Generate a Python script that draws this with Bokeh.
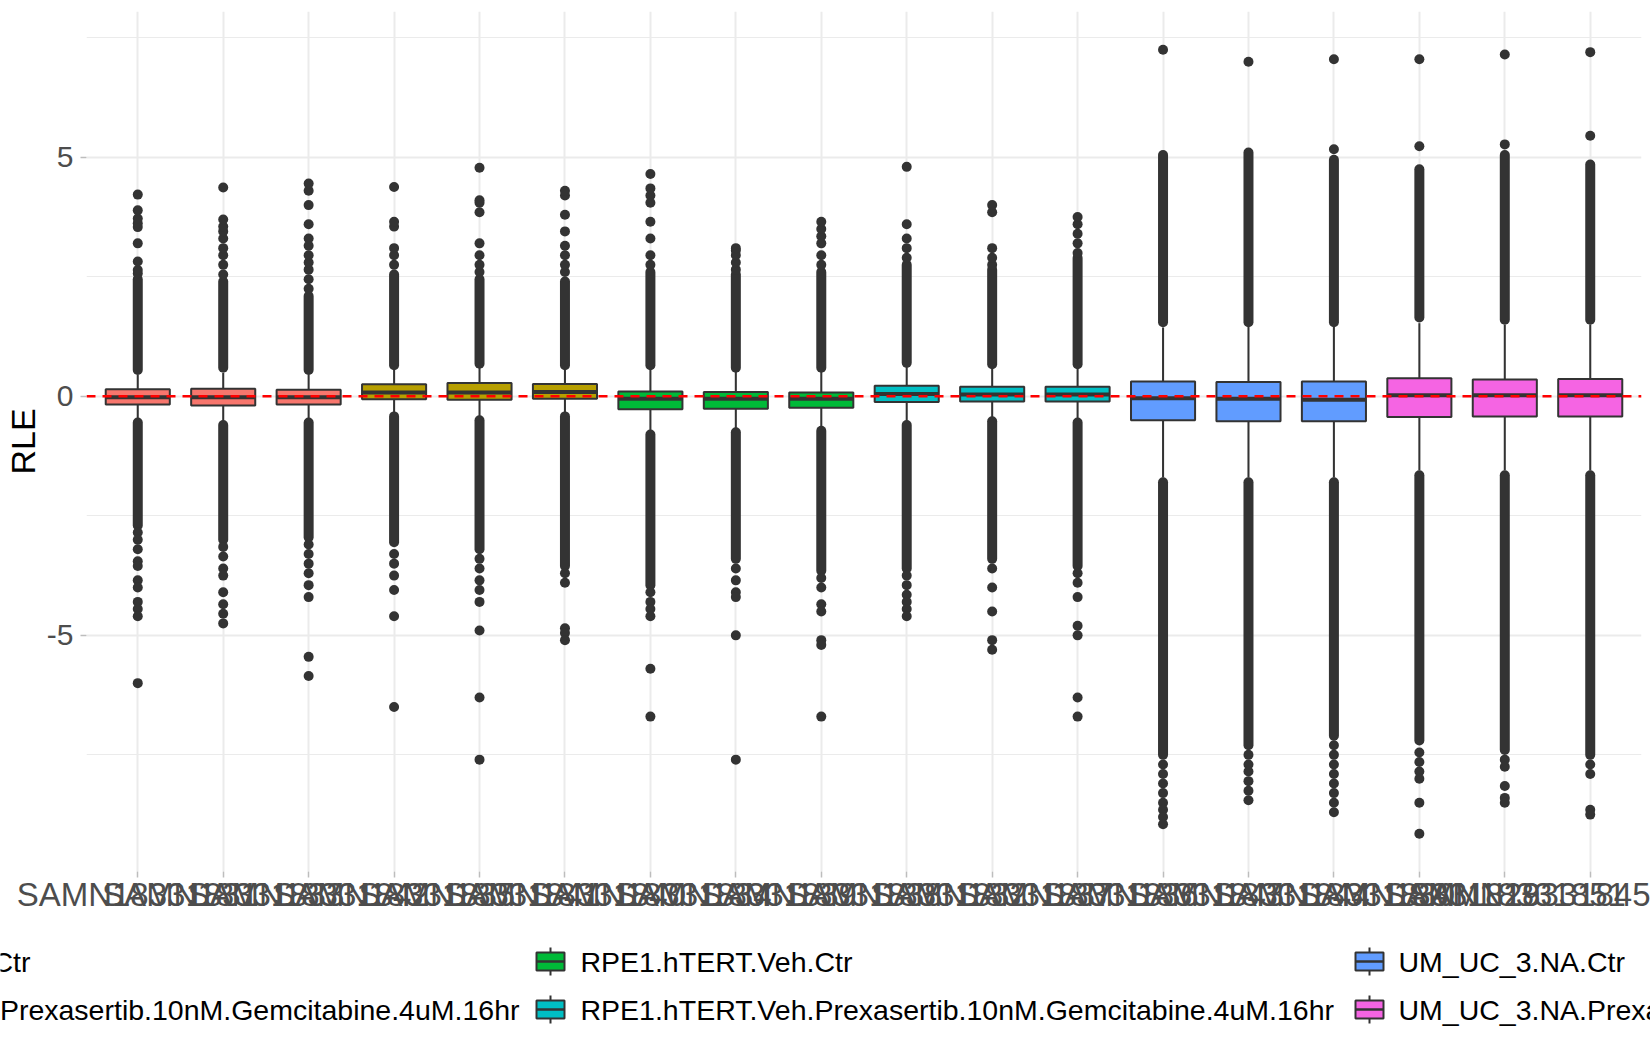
from bokeh.plotting import figure
from bokeh.models import FactorRange, Range1d, FixedTicker, Span
from bokeh.layouts import column
from bokeh.embed import file_html
from bokeh.resources import INLINE
from bokeh.core.properties import value

FONT = "Liberation Sans"

# sample ids along the x axis
samples = ["SAMN18331831", "SAMN18331833", "SAMN18331842", "SAMN18331835",
           "SAMN18331841", "SAMN18331840", "SAMN18331834", "SAMN18331839",
           "SAMN18331838", "SAMN18331832", "SAMN18331837", "SAMN18331836",
           "SAMN18331843", "SAMN18331844", "SAMN18331830", "SAMN18331829",
           "SAMN18331851", "SAMN18331845"]

group_names = ["RPE1.hTERT.Dox.Ctr",
               "RPE1.hTERT.Dox.Prexasertib.10nM.Gemcitabine.4uM.16hr",
               "RPE1.hTERT.Veh.Ctr",
               "RPE1.hTERT.Veh.Prexasertib.10nM.Gemcitabine.4uM.16hr",
               "UM_UC_3.NA.Ctr",
               "UM_UC_3.NA.Prexasertib.10nM.Gemcitabine.4uM.16hr"]
group_colors = ["#F8766D", "#B79F00", "#00BA38", "#00BFC4", "#619CFF", "#F564E3"]
sample_group = [0, 0, 0, 1, 1, 1, 2, 2, 2, 3, 3, 3, 4, 4, 4, 5, 5, 5]

# box statistics (RLE)
q1 = [-0.17, -0.19, -0.17, -0.06, -0.07, -0.05, -0.27, -0.26, -0.24,
      -0.12, -0.11, -0.11, -0.50, -0.52, -0.52, -0.43, -0.42, -0.42]
med = [-0.02, -0.02, -0.02, 0.08, 0.08, 0.09, -0.05, -0.05, -0.05,
       0.05, 0.04, 0.04, -0.04, -0.05, -0.07, 0.02, 0.02, 0.02]
q3 = [0.15, 0.16, 0.14, 0.25, 0.28, 0.26, 0.10, 0.09, 0.08,
      0.22, 0.20, 0.20, 0.31, 0.30, 0.31, 0.38, 0.35, 0.36]
whisk_lo = [-0.47, -0.52, -0.48, -0.38, -0.45, -0.38, -0.78, -0.72, -0.70,
            -0.55, -0.50, -0.52, -1.70, -1.70, -1.70, -1.55, -1.55, -1.55]
whisk_hi = [0.45, 0.49, 0.46, 0.58, 0.62, 0.58, 0.60, 0.55, 0.55,
            0.65, 0.62, 0.62, 1.44, 1.45, 1.45, 1.53, 1.50, 1.50]

# ranges where the outliers are packed into a solid column
dense_up_lo = [0.55, 0.60, 0.55, 0.65, 0.68, 0.65, 0.65, 0.60, 0.60,
               0.70, 0.67, 0.67, 1.55, 1.55, 1.55, 1.65, 1.60, 1.60]
dense_up_hi = [2.45, 2.40, 2.10, 2.55, 2.45, 2.40, 2.60, 2.55, 2.60,
               2.75, 2.65, 2.90, 5.05, 5.10, 4.95, 4.75, 5.05, 4.85]
dense_dn_hi = [-0.55, -0.60, -0.55, -0.42, -0.50, -0.42, -0.80, -0.75, -0.72,
               -0.60, -0.52, -0.55, -1.80, -1.80, -1.80, -1.65, -1.65, -1.65]
dense_dn_lo = [-2.70, -3.00, -2.95, -3.05, -3.20, -3.55, -3.95, -3.40, -3.65,
               -3.60, -3.40, -3.55, -7.50, -7.30, -7.10, -7.20, -7.40, -7.50]

# isolated outliers
sparse_up = [
    [2.57, 2.64, 2.82, 3.20, 3.54, 3.62, 3.72, 3.89, 4.22],
    [2.55, 2.75, 2.95, 3.10, 3.30, 3.45, 3.55, 3.70, 4.37],
    [2.25, 2.45, 2.65, 2.80, 2.95, 3.15, 3.30, 3.60, 4.00, 4.30, 4.45],
    [2.75, 2.95, 3.10, 3.55, 3.65, 4.38],
    [2.60, 2.75, 2.95, 3.20, 3.85, 4.05, 4.10, 4.78],
    [2.60, 2.75, 2.95, 3.15, 3.45, 3.80, 4.20, 4.30],
    [2.75, 2.95, 3.30, 3.65, 4.05, 4.20, 4.35, 4.65],
    [2.65, 2.80, 2.95, 3.05, 3.10],
    [2.75, 2.95, 3.20, 3.35, 3.50, 3.65],
    [2.90, 3.10, 3.30, 3.60, 4.80],
    [2.75, 2.90, 3.10, 3.85, 4.00],
    [3.00, 3.20, 3.40, 3.60, 3.75],
    [7.25],
    [7.00],
    [5.17, 7.05],
    [5.23, 7.05],
    [5.27, 7.15],
    [5.45, 7.20],
]
sparse_dn = [
    [-2.85, -3.00, -3.20, -3.45, -3.55, -3.85, -4.00, -4.30, -4.45, -4.60, -6.00],
    [-3.15, -3.35, -3.60, -3.75, -4.10, -4.35, -4.55, -4.75],
    [-3.10, -3.30, -3.50, -3.70, -3.95, -4.20, -5.45, -5.85],
    [-3.30, -3.50, -3.75, -4.05, -4.60, -6.50],
    [-3.40, -3.60, -3.85, -4.05, -4.30, -4.90, -6.30, -7.60],
    [-3.70, -3.90, -4.85, -4.95, -5.10],
    [-4.10, -4.30, -4.45, -4.60, -5.70, -6.70],
    [-3.60, -3.85, -4.10, -4.20, -5.00, -7.60],
    [-3.80, -4.00, -4.35, -4.50, -5.10, -5.20, -6.70],
    [-3.75, -3.95, -4.15, -4.30, -4.45, -4.60],
    [-3.60, -4.00, -4.50, -5.10, -5.30],
    [-3.70, -3.90, -4.20, -4.80, -5.00, -6.30, -6.70],
    [-7.70, -7.90, -8.10, -8.30, -8.50, -8.65, -8.80, -8.95],
    [-7.50, -7.70, -7.85, -8.05, -8.25, -8.45],
    [-7.30, -7.50, -7.70, -7.90, -8.10, -8.30, -8.50, -8.70],
    [-7.45, -7.65, -7.85, -8.00, -8.50, -9.15],
    [-7.60, -7.75, -8.15, -8.40, -8.50],
    [-7.70, -7.90, -8.65, -8.75],
]

box_colors = [group_colors[g] for g in sample_group]
out_x, out_y = [], []
for s, ups, dns in zip(samples, sparse_up, sparse_dn):
    for v in ups + dns:
        out_x.append(s)
        out_y.append(v)

DARK = "#333333"
GRID = "#EBEBEB"

p = figure(x_range=FactorRange(factors=samples, range_padding=0.1,
                               range_padding_units="absolute"),
           y_range=Range1d(-9.94, 8.05),
           width=1650, height=930,
           min_border_top=11, min_border_bottom=59, min_border_right=9,
           min_border_left=85,
           output_backend="svg", toolbar_location=None)
p.frame_align = False
p.outline_line_color = None
p.background_fill_color = "white"
p.border_fill_color = "white"

# grid like theme_minimal
p.xgrid.grid_line_color = GRID
p.xgrid.grid_line_width = 2
p.ygrid.grid_line_color = GRID
p.ygrid.grid_line_width = 2
p.ygrid.minor_grid_line_color = GRID
p.ygrid.minor_grid_line_width = 1

p.yaxis.ticker = FixedTicker(ticks=[-5, 0, 5], minor_ticks=[-7.5, -2.5, 2.5, 7.5])
p.yaxis.major_label_overrides = {-5: "-5", 0: "0", 5: "5"}
for ax in (p.xaxis, p.yaxis):
    ax.axis_line_color = None
    ax.major_tick_line_color = "#BDBDBD"
    ax.major_tick_line_width = 1.5
    ax.major_tick_out = 6
    ax.major_tick_in = 0
    ax.minor_tick_line_color = None
    ax.major_label_text_font = FONT
    ax.major_label_text_color = "#4D4D4D"
p.xaxis.major_label_text_font_size = "33px"
p.yaxis.major_label_text_font_size = "30px"
p.xaxis.major_label_standoff = -2
p.yaxis.major_label_standoff = 7
p.yaxis.axis_label = "RLE"
p.yaxis.axis_label_text_font = FONT
p.yaxis.axis_label_text_font_size = "34px"
p.yaxis.axis_label_text_font_style = "normal"
p.yaxis.axis_label_text_color = "black"
p.yaxis.axis_label_standoff = 2

# whiskers
p.segment(x0=samples, y0=q3, x1=samples, y1=whisk_hi, line_color=DARK, line_width=2)
p.segment(x0=samples, y0=q1, x1=samples, y1=whisk_lo, line_color=DARK, line_width=2)

# outliers
p.segment(x0=samples, y0=dense_up_lo, x1=samples, y1=dense_up_hi,
          line_color=DARK, line_width=10, line_cap="round")
p.segment(x0=samples, y0=dense_dn_hi, x1=samples, y1=dense_dn_lo,
          line_color=DARK, line_width=10, line_cap="round")
p.scatter(x=out_x, y=out_y, size=10, fill_color=DARK, line_color=None)

# boxes and medians
p.vbar(x=samples, width=0.75, top=q3, bottom=q1, fill_color=box_colors,
       line_color=DARK, line_width=2)
p.rect(x=samples, y=med, width=0.75, height=4, height_units="screen",
       fill_color=DARK, line_color=None)

p.add_layout(Span(location=0, dimension="width", line_color="red",
                  line_dash="9 7", line_width=2.5))

# legend drawn in page pixels below the panel
lg = figure(width=1650, height=120, x_range=Range1d(0, 1650),
            y_range=Range1d(1050, 930), min_border=0,
            min_border_left=0, min_border_right=0,
            min_border_top=0, min_border_bottom=0,
            x_axis_location=None, y_axis_location=None,
            output_backend="svg", toolbar_location=None)
lg.frame_align = False
lg.outline_line_color = None
lg.xgrid.visible = False
lg.ygrid.visible = False

row_y = [961, 1009]
key_left = [None, 536, 1355]
text_left = [None, 580, 1398]
col1_text_end = [30, 519]

kx, ky, kc = [], [], []
tl_x, tl_y, tl_t = [], [], []
tr_x, tr_y, tr_t = [], [], []
for i, name in enumerate(group_names):
    c, r = divmod(i, 2)
    if c == 0:
        tr_x.append(col1_text_end[r])
        tr_y.append(row_y[r])
        tr_t.append(name)
    else:
        kx.append(key_left[c] + 14)
        ky.append(row_y[r])
        kc.append(group_colors[i])
        tl_x.append(text_left[c])
        tl_y.append(row_y[r])
        tl_t.append(name)

lg.segment(x0=kx, y0=[y - 14 for y in ky], x1=kx, y1=[y + 14 for y in ky],
           line_color=DARK, line_width=2)
lg.quad(left=[x - 14 for x in kx], right=[x + 14 for x in kx],
        top=[y - 9 for y in ky], bottom=[y + 9 for y in ky],
        fill_color=kc, line_color=DARK, line_width=2)
lg.segment(x0=[x - 14 for x in kx], y0=ky, x1=[x + 14 for x in kx], y1=ky,
           line_color=DARK, line_width=2.5)
lg.text(x=tl_x, y=tl_y, text=tl_t, text_font=value(FONT), text_font_size="28.5px",
        text_baseline="middle", text_align="left", text_color="black")
lg.text(x=tr_x, y=tr_y, text=tr_t, text_font=value(FONT), text_font_size="28.5px",
        text_baseline="middle", text_align="right", text_color="black")

layout = column(p, lg)
open("out.html", "w").write(file_html(layout, INLINE))
